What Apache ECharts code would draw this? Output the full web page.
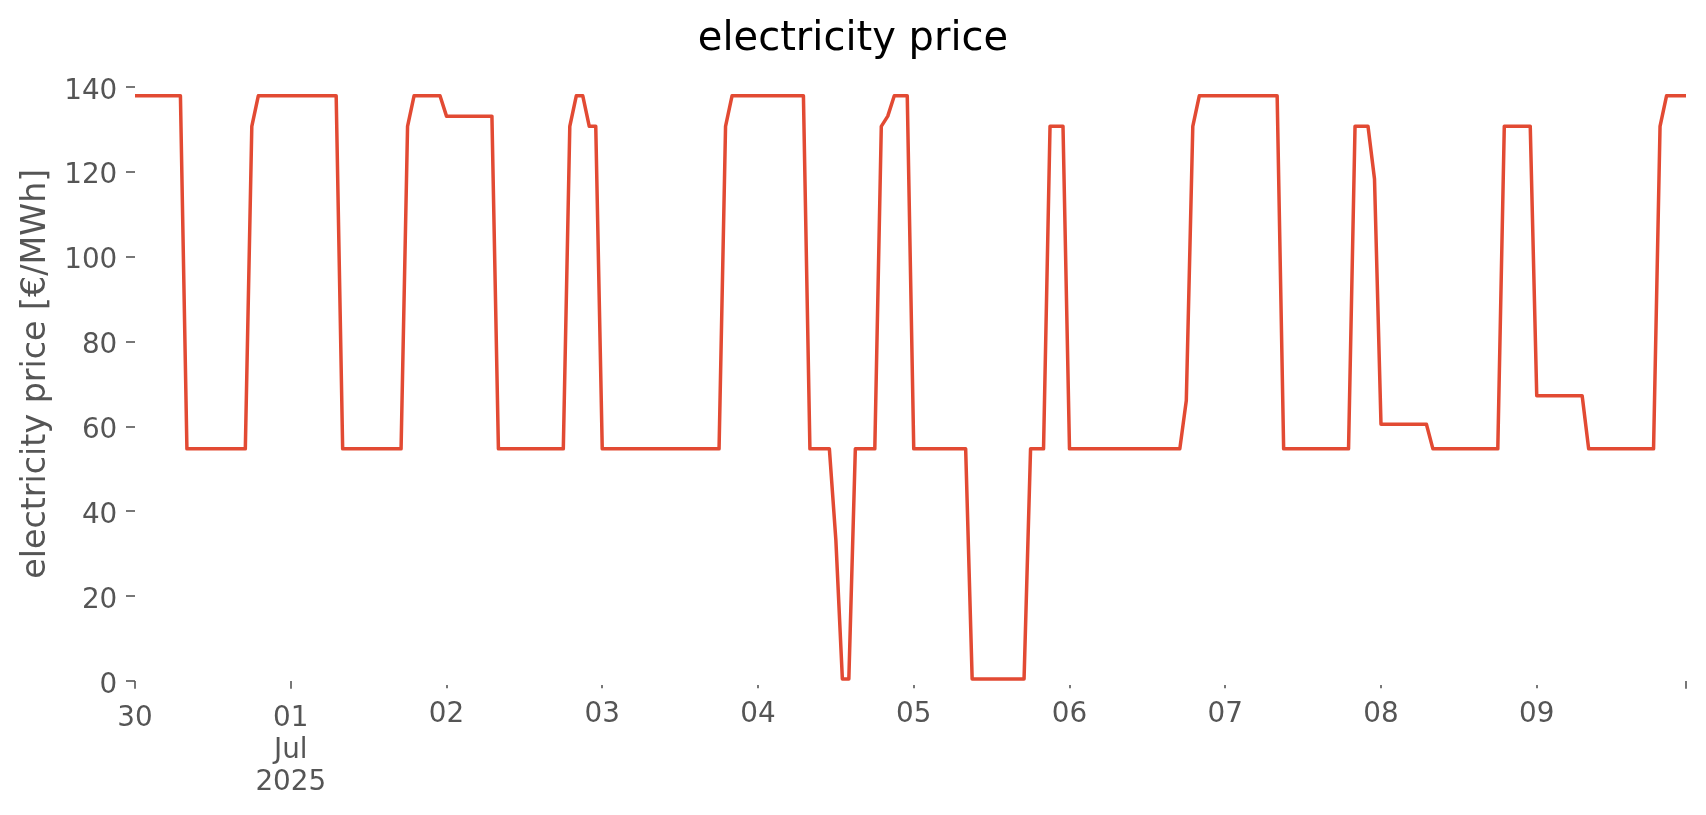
<!DOCTYPE html>
<html>
<head>
<meta charset="utf-8">
<script src="https://cdn.jsdelivr.net/npm/echarts@6/dist/echarts.min.js"></script>
<style>
html,body{margin:0;padding:0;background:#ffffff;}
#chart{width:1706px;height:815px;}
</style>
</head>
<body>
<div id="chart"></div>
<script>
// Hourly electricity price [€/MWh], 2025-06-30 00:00 .. 2025-07-09 23:00
const jun30 = [137.9,137.9,137.9,137.9,137.9,137.9,137.9,137.9,54.7,54.7,54.7,54.7,54.7,54.7,54.7,54.7,54.7,54.7,130.7,137.9,137.9,137.9,137.9,137.9];
const jul01 = [137.9,137.9,137.9,137.9,137.9,137.9,137.9,137.9,54.7,54.7,54.7,54.7,54.7,54.7,54.7,54.7,54.7,54.7,130.7,137.9,137.9,137.9,137.9,137.9];
const jul02 = [133.1,133.1,133.1,133.1,133.1,133.1,133.1,133.1,54.7,54.7,54.7,54.7,54.7,54.7,54.7,54.7,54.7,54.7,54.7,130.7,137.9,137.9,130.7,130.7];
const jul03 = [54.7,54.7,54.7,54.7,54.7,54.7,54.7,54.7,54.7,54.7,54.7,54.7,54.7,54.7,54.7,54.7,54.7,54.7,54.7,130.7,137.9,137.9,137.9,137.9];
const jul04 = [137.9,137.9,137.9,137.9,137.9,137.9,137.9,137.9,54.7,54.7,54.7,54.7,33.2,0.5,0.5,54.7,54.7,54.7,54.7,130.7,133.1,137.9,137.9,137.9];
const jul05 = [54.7,54.7,54.7,54.7,54.7,54.7,54.7,54.7,54.7,0.5,0.5,0.5,0.5,0.5,0.5,0.5,0.5,0.5,54.7,54.7,54.7,130.7,130.7,130.7];
const jul06 = [54.7,54.7,54.7,54.7,54.7,54.7,54.7,54.7,54.7,54.7,54.7,54.7,54.7,54.7,54.7,54.7,54.7,54.7,66.1,130.7,137.9,137.9,137.9,137.9];
const jul07 = [137.9,137.9,137.9,137.9,137.9,137.9,137.9,137.9,137.9,54.7,54.7,54.7,54.7,54.7,54.7,54.7,54.7,54.7,54.7,54.7,130.7,130.7,130.7,118.3];
const jul08 = [60.5,60.5,60.5,60.5,60.5,60.5,60.5,60.5,54.7,54.7,54.7,54.7,54.7,54.7,54.7,54.7,54.7,54.7,54.7,130.7,130.7,130.7,130.7,130.7];
const jul09 = [67.2,67.2,67.2,67.2,67.2,67.2,67.2,67.2,54.7,54.7,54.7,54.7,54.7,54.7,54.7,54.7,54.7,54.7,54.7,130.7,137.9,137.9,137.9,137.9];

// x axis in hours since 2025-06-30 00:00
const majorTickHours = [0, 24, 239];
const majorLabelHours = [0, 24];
const majorLabels = ['30', '01\nJul\n2025'];
const minorTickHours = [48, 72, 96, 120, 144, 168, 192, 216];
const minorLabels = ['02', '03', '04', '05', '06', '07', '08', '09'];
const yTicks = [0, 20, 40, 60, 80, 100, 120, 140];

const prices = [].concat(jun30, jul01, jul02, jul03, jul04, jul05, jul06, jul07, jul08, jul09);
const seriesData = prices.map((v, i) => [i, v]);

const FONT = 'DejaVu Sans';
const GREY = '#555555';

const chart = echarts.init(document.getElementById('chart'), null, {renderer: 'canvas'});
chart.setOption({
  backgroundColor: '#ffffff',
  animation: false,
  title: {
    text: 'electricity price',
    left: 'center',
    top: 20,
    padding: 0,
    textStyle: {fontFamily: FONT, fontSize: 40, fontWeight: 'normal', color: '#000000'}
  },
  grid: {left: 135, right: 20, top: 66.5, bottom: 134, containLabel: false},
  xAxis: [
    {
      type: 'value', min: 0, max: 239, position: 'bottom', offset: 4,
      axisLine: {show: false}, splitLine: {show: false},
      axisTick: {show: true, customValues: majorTickHours, length: 7.7, lineStyle: {color: GREY, width: 1.6}},
      axisLabel: {
        customValues: majorLabelHours,
        formatter: v => majorLabels[majorLabelHours.indexOf(v)] || '',
        margin: 18, fontSize: 27.8, lineHeight: 32, color: GREY, fontFamily: FONT, align: 'center'
      }
    },
    {
      type: 'value', min: 0, max: 239, position: 'bottom', offset: 4,
      axisLine: {show: false}, splitLine: {show: false},
      axisTick: {show: true, customValues: minorTickHours, length: 3.3, lineStyle: {color: GREY, width: 1.6}},
      axisLabel: {
        customValues: minorTickHours,
        formatter: v => minorLabels[minorTickHours.indexOf(v)] || '',
        margin: 13.5, fontSize: 27.8, lineHeight: 32, color: GREY, fontFamily: FONT
      }
    }
  ],
  yAxis: {
    type: 'value', min: 0, max: 144.8, position: 'left',
    name: 'electricity price [€/MWh]', nameLocation: 'middle', nameGap: 79, nameRotate: 90,
    nameTextStyle: {fontFamily: FONT, fontSize: 33.3, color: GREY},
    axisLine: {show: false}, splitLine: {show: false},
    axisTick: {show: true, customValues: yTicks, length: 9, lineStyle: {color: GREY, width: 1.6}},
    axisLabel: {
      customValues: yTicks, margin: 17.7,
      formatter: v => '{t|' + v + '}',
      rich: {t: {fontSize: 27.8, color: GREY, fontFamily: FONT, padding: [9, 0, 0, 0]}}
    }
  },
  series: [{
    type: 'line',
    xAxisIndex: 0,
    data: seriesData,
    showSymbol: false,
    symbol: 'none',
    clip: false,
    lineStyle: {color: '#E24A33', width: 3.5, join: 'round'}
  }]
});
</script>
</body>
</html>
